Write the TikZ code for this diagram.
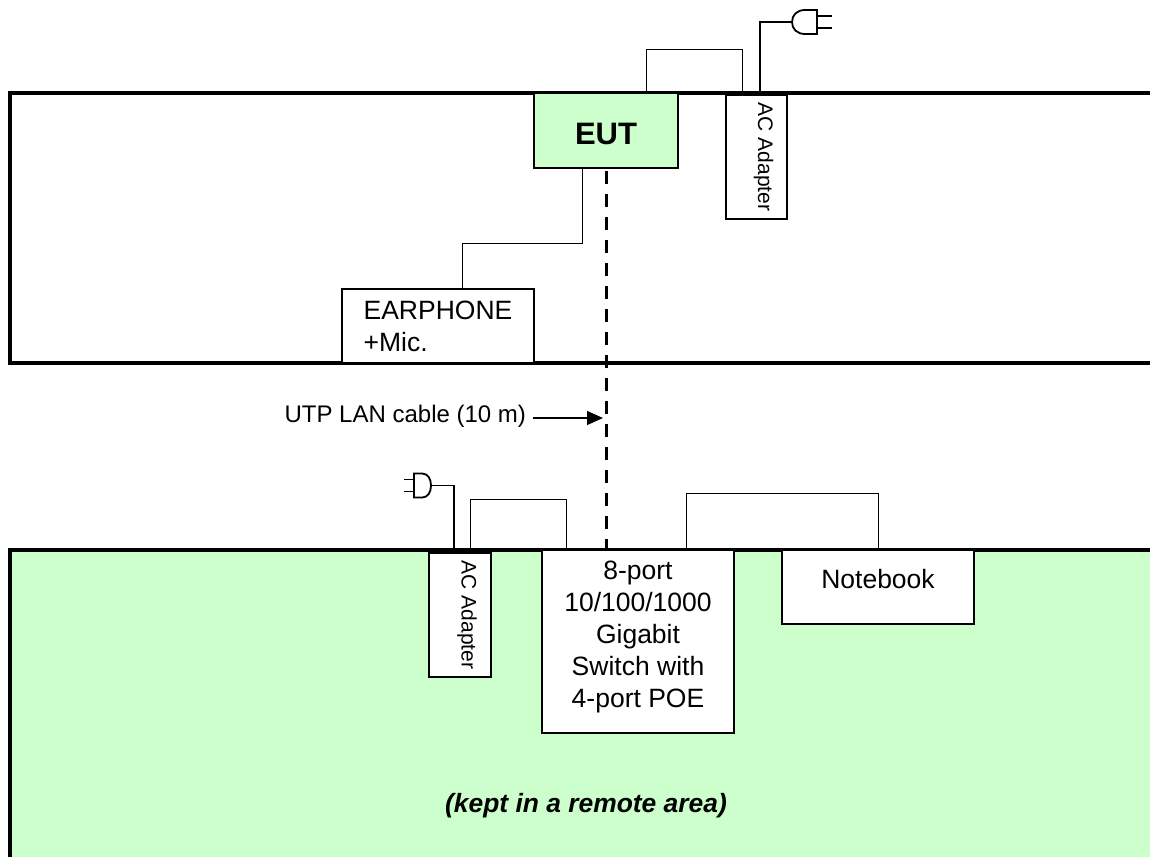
\documentclass[tikz,border=0pt]{standalone}
\usepackage{graphicx,fontspec}
\setmainfont{Liberation Sans}
\usepackage{tikz}
\usetikzlibrary{arrows.meta}
\definecolor{roomgreen}{HTML}{CCFFCC}
\tikzset{
	% Two node styles for the equipment: white box and box with room colour
	unit box/.style={rectangle,draw,line width=2,fill=white,inner sep=0,outer sep=0,align=center,font=\fontsize{26.5}{32}\selectfont},
	eut box/.style={unit box,fill=roomgreen,font=\fontsize{31}{36}\bfseries\selectfont},
	% Line styles for walls and cables
	room wall/.style={line width=4},
	thin wire/.style={line width=1},
	power wire/.style={line width=1.8},
	lan cable/.style={line width=3,dash pattern=on 13pt off 10pt},
	note text/.style={inner sep=0,outer sep=0}
}

\begin{document}
\begin{tikzpicture}[x=1pt,y=-1pt]
	% macro for the mains plug, drawn with its prongs to the right
	\newcommand{\powerplug}[3]{
		\begin{scope}[shift={(#2)},xscale=#3,line width=1.8]
			\coordinate(#1) at (0,0);
			\draw (25,-12)--(13,-12) .. controls (5,-12) and (0,-7) .. (0,0) .. controls (0,7) and (5,12) .. (13,12)--(25,12)--cycle;
			\draw (25,-6)--(40,-6);
			\draw (25,6)--(40,6);
		\end{scope}
	}
	% macro for the turned label of an adapter
	\newcommand{\adapterlabel}[1]{\fontsize{21}{24}\selectfont\hspace*{#1}\rotatebox{-90}{AC Adapter}}
	\useasboundingbox (0,0) rectangle (1150,857);

	% rooms, both open on the right
	\fill[roomgreen] (10,550) rectangle (1150,857);
	\draw[room wall] (1150,93)--(10,93)--(10,363)--(1150,363);
	\draw[room wall] (1150,550)--(10,550)--(10,857);

	\node(eut)[eut box,minimum width=144,minimum height=75,text height=51.5,text depth=23.5] at (606,130.5){EUT};
	\node(adapterup)[unit box,minimum width=61,minimum height=124] at (756.5,157){\adapterlabel{14pt}};
	\node(earphone)[unit box,align=left,minimum width=192,minimum height=74] at (438,326){EARPHONE\\+Mic.};
	\node(adapterlow)[unit box,minimum width=62,minimum height=124] at (460,615){\adapterlabel{14pt}};
	\node(switch)[unit box,minimum width=192,minimum height=183] at (638,641.5){8-port\\10/100/1000\\Gigabit\\Switch with\\4-port POE\rule[-14pt]{0pt}{0pt}};
	\node(notebook)[unit box,minimum width=192,minimum height=74,text height=38,text depth=36] at (878,587){Notebook};

	\powerplug{plugup}{792,22}{1}
	\powerplug{pluglow}{431,485.5}{-0.68}

	% cables between the units
	\draw[thin wire] ([xshift=40]eut.north)--++(0,-44)-|([xshift=-14.5]adapterup.north);
	\draw[power wire] ([xshift=3.5]adapterup.north)|-(plugup);
	\draw[thin wire] ([xshift=-24]eut.south)--++(0,75)-|([xshift=24]earphone.north);
	\draw[power wire] ([xshift=-6]adapterlow.north)|-(pluglow);
	\draw[thin wire] ([xshift=10]adapterlow.north)--++(0,-54)-|([xshift=-72]switch.north);
	\draw[thin wire] ([xshift=48]switch.north)--++(0,-57)-|(notebook.north);
	\draw[lan cable] ([yshift=-3]eut.south)--(eut.south|-switch.north);

	% labels
	\coordinate(cabletip) at (603,418);
	\node(cablelabel)[note text,inner xsep=7,anchor=base east,font=\fontsize{24}{28}\selectfont] at (533,422){UTP LAN cable (10 m)};
	\draw[line width=1.2,-{Triangle[length=16pt,width=14pt]}] (cablelabel.east|-cabletip)--(cabletip);
	\node(remotelabel)[note text,anchor=base,font=\fontsize{26.4}{30}\bfseries\itshape\selectfont] at (586,812){(kept in a remote area)};
\end{tikzpicture}
\end{document}
